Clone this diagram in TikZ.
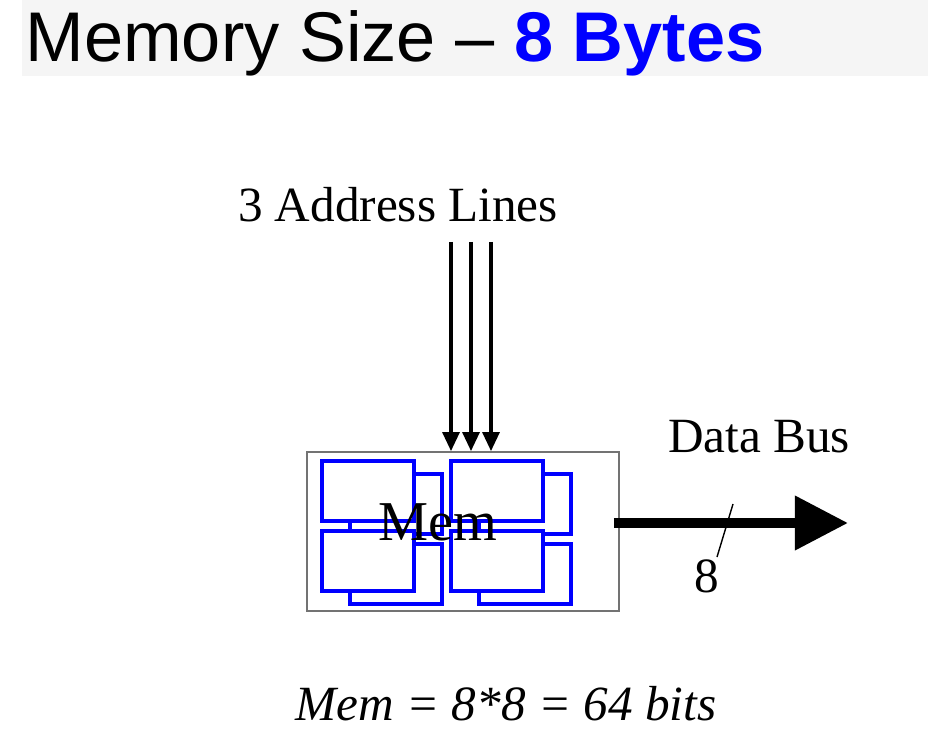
\documentclass[tikz,border=0pt]{standalone}
\usepackage{fontspec}
\setmainfont{Liberation Serif}
\newfontfamily\titlefont[Ligatures=TeX]{Liberation Sans}
\usetikzlibrary{arrows.meta}
\begin{document}
\begin{tikzpicture}[
    x=0.01cm, y=-0.01cm,
    title/.style={anchor=base west, inner sep=0pt, font=\titlefont\fontsize{20pt}{24pt}\selectfont},
    label/.style={anchor=base, inner sep=0pt, font=\fontsize{14pt}{17pt}\selectfont},
    membox/.style={rectangle, draw=black!55, line width=0.5pt, minimum width=3.12cm, minimum height=1.59cm},
    cell/.style={draw=blue, line width=0.9pt, fill=white},
    addr/.style={line width=0.9pt, -{Triangle[length=0.19cm, width=0.17cm]}},
    bus/.style={line width=2.9pt, -{Triangle[length=0.53cm, width=0.52cm]}}
]
\useasboundingbox (0,0) rectangle (928,746);

% Заголовок
\fill[black!4] (22,0) rectangle (928,76);
\node[title] (ttl) at (25,62) {Memory Size -- \textbf{\color{blue}8 Bytes}};

% Память
\node[membox] (mem) at (463,531.5) {};
\foreach \x/\y in {322/461, 451/461, 322/531, 451/531} {
    \draw[cell] (\x+28,\y+13) rectangle ++(92,60);
    \draw[cell] (\x,\y) rectangle ++(92,60);
}
\node[label, font=\fontsize{16pt}{19pt}\selectfont] (memtxt) at (438,540) {Mem};

% Адресные линии
\node[label] (addrtxt) at (398,222) {3 Address Lines};
\coordinate (a1) at (451,242);
\coordinate (a2) at (471,242);
\coordinate (a3) at (491,242);
\draw[addr] (a1) -- (a1 |- mem.north);
\draw[addr] (a2) -- (a2 |- mem.north);
\draw[addr] (a3) -- (a3 |- mem.north);

% Шина данных
\node[label] (bustxt) at (759,452) {Data Bus};
\coordinate (busend) at (848,523);
\draw[bus] ([xshift=-0.06cm]mem.east |- busend) -- (busend);
\coordinate (s1) at (733,504);
\coordinate (s2) at (717,557);
\draw[line width=0.4pt] (s1) -- (s2);
\node[label] (width) at (707,592) {8};

% Итог
\node[label] (total) at (506,720) {\itshape Mem = 8*8 = 64 bits};
\end{tikzpicture}
\end{document}
